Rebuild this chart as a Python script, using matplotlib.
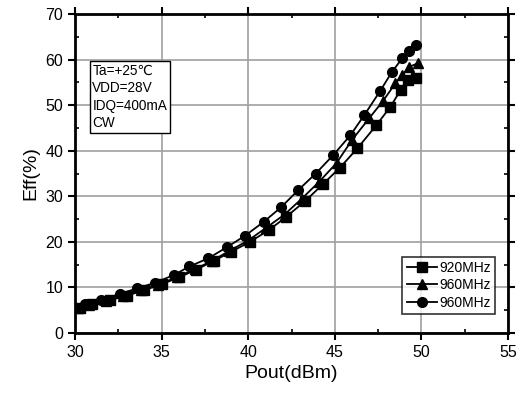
import matplotlib
matplotlib.use("Agg")
import matplotlib.pyplot as plt
from matplotlib.ticker import MultipleLocator

plt.rcParams['font.family'] = ['Liberation Sans', 'DejaVu Sans']

# Series data
x_920 = [30.3, 31.0, 32.0, 33.0, 34.0, 35.0, 36.0, 37.0, 38.0, 39.0, 40.1, 41.2, 42.2,
         43.3, 44.3, 45.3, 46.3, 47.4, 48.2, 48.8, 49.2, 49.7]
y_920 = [5.5, 6.3, 7.2, 8.2, 9.4, 10.7, 12.2, 13.9, 15.8, 17.8, 20.0, 22.6, 25.5,
         29.0, 32.6, 36.3, 40.5, 45.6, 49.6, 53.3, 55.5, 56.0]

x_960a = [30.2, 30.8, 31.8, 32.8, 33.8, 34.8, 35.9, 36.9, 37.9, 38.9, 40.0, 41.0, 42.1,
          43.1, 44.1, 45.1, 46.0, 47.0, 47.8, 48.5, 48.9, 49.3, 49.8]
y_960a = [5.5, 6.2, 7.0, 8.2, 9.4, 10.6, 12.3, 14.0, 15.8, 18.0, 20.3, 23.0, 26.0,
          29.5, 33.2, 37.3, 42.4, 47.2, 51.0, 54.8, 56.6, 58.4, 59.2]

x_960b = [30.1, 30.6, 31.5, 32.6, 33.6, 34.6, 35.7, 36.6, 37.7, 38.8, 39.8, 40.9, 41.9,
          42.9, 43.9, 44.9, 45.9, 46.7, 47.6, 48.3, 48.9, 49.3, 49.7]
y_960b = [5.4, 6.4, 7.2, 8.6, 9.8, 11.0, 12.7, 14.6, 16.4, 18.9, 21.3, 24.4, 27.6,
          31.4, 35.0, 39.0, 43.4, 47.8, 53.0, 57.3, 60.3, 61.9, 63.2]

labels = ['920MHz', '960MHz', '960MHz']
markers = ['s', '^', 'o']
note_lines = ['Ta=+25\u2103', 'VDD=28V', 'IDQ=400mA', 'CW']

fig = plt.figure(figsize=(5.27, 4.0), dpi=100)
ax = fig.add_axes([0.1423, 0.1675, 0.8217, 0.7975])

for xs, ys, lab, m in zip([x_920, x_960a, x_960b], [y_920, y_960a, y_960b], labels, markers):
    ax.plot(xs, ys, color='black', lw=1.3, marker=m, ms=7, label=lab)

ax.set_xlim(30, 55)
ax.set_ylim(0, 70)
ax.xaxis.set_major_locator(MultipleLocator(5))
ax.xaxis.set_minor_locator(MultipleLocator(2.5))
ax.yaxis.set_major_locator(MultipleLocator(10))
ax.yaxis.set_minor_locator(MultipleLocator(5))
ax.grid(True, which='major', color='#a0a0a0', lw=1.2)
ax.set_axisbelow(True)

for s in ax.spines.values():
    s.set_linewidth(2)

ax.tick_params(which='major', direction='out', length=5, width=1.5, labelsize=11.5,
               top=True, right=True)
ax.tick_params(which='minor', direction='in', length=3, width=1.2, top=True, right=True)
ax.tick_params(axis='x', which='both', top=True)
ax.tick_params(axis='y', which='both', right=True)

ax.set_xlabel('Pout(dBm)', fontsize=14)
ax.set_ylabel('Eff(%)', fontsize=14)

ax.text(31.0, 59.0, '\n'.join(note_lines), fontsize=9.8, va='top', ha='left',
        linespacing=1.3,
        bbox=dict(boxstyle='square,pad=0.2', fc='white', ec='black', lw=1))

leg = ax.legend(loc='lower right', bbox_to_anchor=(0.97, 0.06), fontsize=10,
                frameon=True, fancybox=False, edgecolor='black', handlelength=2.2,
                handletextpad=0.15, borderpad=0.3, labelspacing=0.25,
                borderaxespad=0.0)
leg.get_frame().set_linewidth(1.2)

fig.savefig('out.png', dpi=100)
